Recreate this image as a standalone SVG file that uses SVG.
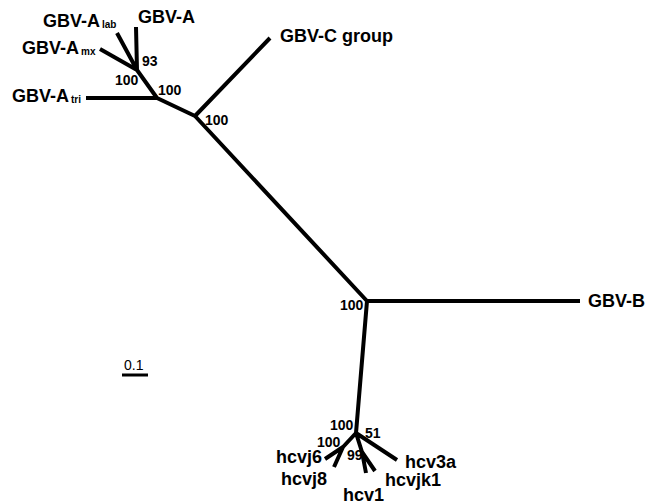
<svg xmlns="http://www.w3.org/2000/svg" width="647" height="502" viewBox="0 0 647 502">
<style>
.br{stroke:#000;stroke-width:4;fill:none;stroke-linecap:butt;stroke-linejoin:round}
.lab{font-family:"Liberation Sans",Arial,sans-serif;font-weight:bold;font-size:18px;fill:#000}
.sub{font-family:"Liberation Sans",Arial,sans-serif;font-weight:bold;font-size:10px;fill:#000}
.bs{font-family:"Liberation Sans",Arial,sans-serif;font-weight:bold;font-size:14px;fill:#000}
.sc{font-family:"Liberation Sans",Arial,sans-serif;font-size:14px;fill:#000}
</style>
<rect width="647" height="502" fill="#fff"/>
<g id="connectors">
<path class="br" d="M367,301 L195,116 M195,116 L270,38 M195,116 L157,98 M157,98 L86,98 M157,98 L137,70 M137,70 L136,27 M137,70 L117,33 M137,70 L100,49"/>
<path class="br" d="M367,301 L580,301"/>
<path class="br" d="M367,301 L356,433 M356,433 L343,447 M343,447 L325,459 M343,447 L334,467 M356,433 L362,452 M362,452 L366,473 M362,452 L375,471 M356,433 L397,460"/>
</g>
<g id="GBV-A"><text class="lab" x="138" y="23">GBV-A</text></g>
<g id="GBV-A-lab"><text class="lab" x="43" y="27">GBV-A</text><text class="sub" x="102" y="28">lab</text></g>
<g id="GBV-A-mx"><text class="lab" x="22" y="54">GBV-A</text><text class="sub" x="81" y="55">mx</text></g>
<g id="GBV-A-tri"><text class="lab" x="12" y="102">GBV-A</text><text class="sub" x="71" y="103">tri</text></g>
<g id="GBV-C"><text class="lab" x="280" y="42">GBV-C group</text></g>
<g id="GBV-B"><text class="lab" x="588" y="307">GBV-B</text></g>
<g id="hcvj6"><text class="lab" x="322" y="463" text-anchor="end">hcvj6</text></g>
<g id="hcvj8"><text class="lab" x="327" y="485" text-anchor="end">hcvj8</text></g>
<g id="hcv1"><text class="lab" x="343" y="501">hcv1</text></g>
<g id="hcvjk1"><text class="lab" x="385" y="486">hcvjk1</text></g>
<g id="hcv3a"><text class="lab" x="405" y="468">hcv3a</text></g>
<g id="support">
<text class="bs" x="142" y="66">93</text>
<text class="bs" x="115" y="85">100</text>
<text class="bs" x="158" y="95">100</text>
<text class="bs" x="205" y="125">100</text>
<text class="bs" x="340" y="310">100</text>
<text class="bs" x="330" y="430">100</text>
<text class="bs" x="317" y="447">100</text>
<text class="bs" x="365" y="438">51</text>
<text class="bs" x="347" y="460">99</text>
</g>
<g id="scale">
<text class="sc" x="124" y="370">0.1</text>
<line x1="122" y1="375" x2="148" y2="375" stroke="#000" stroke-width="3"/>
</g>
</svg>
